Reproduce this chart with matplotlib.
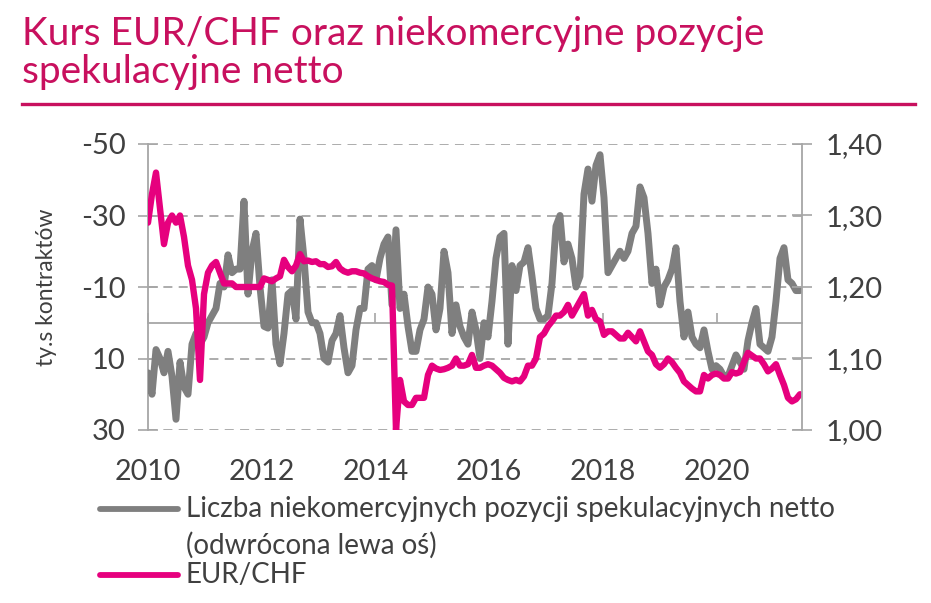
import matplotlib.pyplot as plt
from matplotlib.lines import Line2D
import matplotlib.dates as mdates
import pandas as pd

plt.rcParams['font.family'] = ['Lato', 'DejaVu Sans']

# net non-commercial speculative positions (ty. kontraktow)
positions = [
    14, 20, 7.5, 10, 14, 8, 15, 27, 11, 18, 20, 6, 3, 6, 4, 0, -2, -4, -11, -10,
    -19, -14, -15, -15, -34, -8, -20, -25, -10, 1, 1.5, -12, 6, 11.5, 3, -8, -9, -1, -29, -18,
    -3, 0, 0, 3, 10, 11, 5, 3, -2, 7, 14, 12, 2, -4, -4, -15, -16, -12, -18, -22,
    -24, -5, -26, -4, -8, 1, 8, 8, 2, -1, -10, -8, 2, -4, -20, -14, 3, -5, 1, 4,
    6, -3, 2, 10, 0, 4, -6, -18, -24, -25, 6, -16, -9, -16, -17, -21, -13, -4, -1, -1,
    -2, -11, -27, -30, -17, -22, -18, -10, -13, -36, -43, -34, -44, -47, -35, -14, -16, -18, -20, -18,
    -20, -25, -27, -38, -35, -25, -11, -15, -5, -10, -12, -15, -21, -6, 4, -3, 4, 6, 7, 2,
    8, 13, 12, 13, 15, 15, 12, 9, 11, 13, 5, 0, -4, 6, 7, 8, 4, -6, -18, -21,
    -12, -11, -9, -9,
]

eurchf = [
    1.29, 1.33, 1.36, 1.31, 1.26, 1.29, 1.30, 1.29, 1.30, 1.27, 1.23, 1.21, 1.17, 1.07, 1.19, 1.22,
    1.23, 1.235, 1.22, 1.205, 1.205, 1.205, 1.20, 1.20, 1.20, 1.20, 1.20, 1.20, 1.20, 1.212, 1.21, 1.208,
    1.212, 1.215, 1.238, 1.228, 1.222, 1.23, 1.246, 1.236, 1.237, 1.235, 1.236, 1.232, 1.232, 1.228, 1.229, 1.235,
    1.226, 1.222, 1.22, 1.222, 1.222, 1.22, 1.219, 1.215, 1.212, 1.21, 1.208, 1.207, 1.203, 1.202, 1.00, 1.07,
    1.04, 1.035, 1.035, 1.045, 1.045, 1.045, 1.077, 1.09, 1.086, 1.084, 1.085, 1.087, 1.09, 1.10, 1.09, 1.09,
    1.092, 1.105, 1.087, 1.087, 1.09, 1.092, 1.09, 1.085, 1.08, 1.073, 1.07, 1.068, 1.07, 1.068, 1.075, 1.09,
    1.09, 1.10, 1.13, 1.135, 1.145, 1.152, 1.16, 1.16, 1.165, 1.175, 1.16, 1.17, 1.18, 1.19, 1.16, 1.168,
    1.155, 1.152, 1.133, 1.138, 1.138, 1.133, 1.128, 1.128, 1.136, 1.13, 1.124, 1.138, 1.124, 1.11, 1.105, 1.092,
    1.087, 1.092, 1.10, 1.095, 1.087, 1.08, 1.068, 1.063, 1.058, 1.054, 1.054, 1.077, 1.072, 1.077, 1.079, 1.077,
    1.072, 1.072, 1.081, 1.079, 1.081, 1.095, 1.108, 1.104, 1.10, 1.10, 1.092, 1.082, 1.086, 1.092, 1.077, 1.063,
    1.045, 1.04, 1.043, 1.05,
]

dates = pd.date_range('2010-01-01', '2021-06-20', periods=len(positions))

year_labels = ['2010', '2012', '2014', '2016', '2018', '2020']
left_ticks = [-50, -30, -10, 10, 30]
left_labels = ['-50', '-30', '-10', '10', '30']
right_ticks = [1.40, 1.30, 1.20, 1.10, 1.00]
right_labels = ['1,40', '1,30', '1,20', '1,10', '1,00']

title = 'Kurs EUR/CHF oraz niekomercyjne pozycje\nspekulacyjne netto'
legend_gray = 'Liczba niekomercyjnych pozycji spekulacyjnych netto\n(odwrócona lewa oś)'
legend_pink = 'EUR/CHF'

GRAY = '#7F7F7F'
PINK = '#E6007E'
TITLE_C = '#C8105E'
AXIS_C = '#A6A6A6'
TEXT_C = '#404040'

fig = plt.figure(figsize=(9.31, 6.03), dpi=100)
W, H = 931, 603
ax = fig.add_axes([148 / W, 1 - 430 / H, 654 / W, 286 / H])

ax.plot(dates, positions, color=GRAY, lw=5.0, solid_joinstyle='round', solid_capstyle='round', zorder=3)
ax.set_ylim(30, -50)
ax.set_xlim(pd.Timestamp('2010-01-01'), pd.Timestamp('2021-07-03'))
ax.set_yticks(left_ticks)
ax.set_yticklabels(left_labels)
ax.grid(axis='y', ls=(0, (5, 3.5)), color=AXIS_C, lw=1.3)
ax.set_axisbelow(True)

year_pos = [pd.Timestamp(f'{y}-01-01') for y in year_labels]
ax.set_xticks(year_pos)
ax.tick_params(axis='x', direction='in', length=7, width=1.2, color=AXIS_C, labelbottom=False)
ax.spines['bottom'].set_position(('data', 0))
ax.spines['bottom'].set_color(AXIS_C)
ax.spines['bottom'].set_linewidth(1.3)
ax.spines['left'].set_color(AXIS_C)
ax.spines['left'].set_linewidth(1.3)
ax.spines['top'].set_visible(False)
ax.spines['right'].set_visible(False)
ax.tick_params(axis='y', direction='inout', length=14, width=1.2, color=AXIS_C,
               labelsize=21, labelcolor=TEXT_C, pad=9)

for lab, d in zip(year_labels, year_pos):
    ax.text(mdates.date2num(d), -42 / 286, lab, transform=ax.get_xaxis_transform(),
            ha='center', va='center', fontsize=20.5, color=TEXT_C)

ax2 = ax.twinx()
ax2.plot(dates, eurchf, color=PINK, lw=4.6, solid_joinstyle='round', solid_capstyle='round')
ax2.set_ylim(1.0, 1.4)
ax2.set_yticks(right_ticks)
ax2.set_yticklabels(right_labels)
for s in ['top', 'bottom', 'left']:
    ax2.spines[s].set_visible(False)
ax2.spines['right'].set_color(AXIS_C)
ax2.spines['right'].set_linewidth(1.3)
ax2.tick_params(axis='y', direction='inout', length=14, width=1.2, color=AXIS_C,
                labelsize=21, labelcolor=TEXT_C, pad=10)

fig.text(47 / W, 1 - 287 / H, 'ty.s kontraktów', rotation=90, ha='center', va='center',
         fontsize=16.5, color=TEXT_C)

# title and rule
fig.text(22 / W, 1 - 45 / H, title.split('\n')[0], ha='left', va='baseline', fontsize=28, color=TITLE_C)
fig.text(22 / W, 1 - 83 / H, title.split('\n')[1], ha='left', va='baseline', fontsize=28, color=TITLE_C)
fig.add_artist(Line2D([22 / W, 915 / W], [1 - 104 / H, 1 - 104 / H], color=TITLE_C, lw=2.4))

# legend
fig.add_artist(Line2D([100 / W, 178 / W], [1 - 509 / H] * 2, color=GRAY, lw=4.2, solid_capstyle='round'))
fig.text(186 / W, 1 - 509 / H, legend_gray.split('\n')[0], ha='left', va='center', fontsize=20, color=TEXT_C)
fig.text(186 / W, 1 - 545 / H, legend_gray.split('\n')[1], ha='left', va='center', fontsize=20, color=TEXT_C)
fig.add_artist(Line2D([100 / W, 178 / W], [1 - 575 / H] * 2, color=PINK, lw=4.2, solid_capstyle='round'))
fig.text(186 / W, 1 - 575 / H, legend_pink, ha='left', va='center', fontsize=20, color=TEXT_C)

fig.savefig('out.png', dpi=100)
